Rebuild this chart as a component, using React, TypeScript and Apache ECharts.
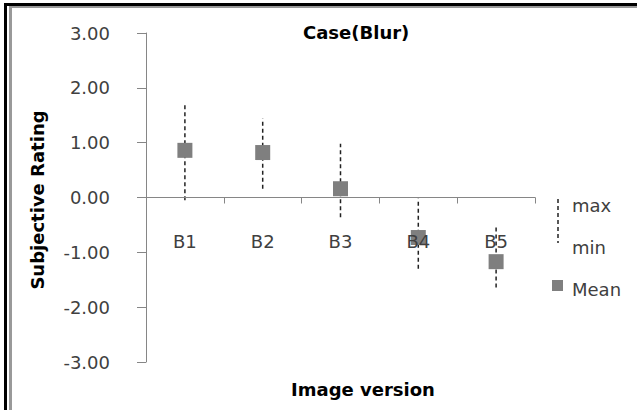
import React, { useEffect, useRef } from "react";
import * as echarts from "echarts";

const categories = ["B1", "B2", "B3", "B4", "B5"];
const meanValues = [0.86, 0.82, 0.16, -0.73, -1.17];
const maxValues = [1.72, 1.44, 0.98, -0.02, -0.51];
const minValues = [-0.05, 0.16, -0.36, -1.3, -1.64];
const yTicks = [-3, -2, -1, 0, 1, 2, 3];

const FONT = "DejaVu Sans";

export default function App() {
  const ref = useRef<HTMLDivElement>(null);
  useEffect(() => {
    if (!ref.current) return;
    const chart = echarts.init(ref.current, undefined, { renderer: "svg" });
    const rangeData = categories.map((c, i) => [i, minValues[i], maxValues[i]]);
    chart.setOption({
      animation: false,
      backgroundColor: "#ffffff",
      title: {
        text: "Case(Blur)",
        left: 298,
        top: 18,
        textStyle: { fontFamily: FONT, fontSize: 18, fontWeight: "bold", color: "#000" },
      },
      grid: { left: 146, right: 102, top: 33, bottom: 48, containLabel: false },
      xAxis: {
        type: "category",
        data: categories,
        z: 5,
        offset: -164.5,
        axisLine: { onZero: false, lineStyle: { color: "#868686", width: 1 } },
        axisTick: { show: true, length: 6, lineStyle: { color: "#868686" } },
        axisLabel: { margin: 35, fontFamily: FONT, fontSize: 18, color: "#404040" },
        splitLine: { show: false },
      },
      yAxis: {
        type: "value",
        min: yTicks[0],
        max: yTicks[yTicks.length - 1],
        interval: 1,
        axisLine: { show: true, lineStyle: { color: "#868686", width: 1 } },
        axisTick: { show: true, length: 9, lineStyle: { color: "#868686" } },
        axisLabel: {
          margin: 36,
          fontFamily: FONT,
          fontSize: 18,
          color: "#404040",
          formatter: (v: number) => v.toFixed(2),
        },
        splitLine: { show: false },
      },
      series: [
        {
          type: "custom",
          name: "range",
          z: 2,
          data: rangeData,
          renderItem: (params: any, api: any) => {
            const p1 = api.coord([api.value(0), api.value(1)]);
            const p2 = api.coord([api.value(0), api.value(2)]);
            return {
              type: "line",
              shape: { x1: p1[0], y1: p1[1], x2: p2[0], y2: p2[1] },
              style: { stroke: "#222", lineWidth: 1.5, lineDash: [4, 3] },
            };
          },
        },
        {
          type: "scatter",
          name: "Mean",
          z: 3,
          symbol: "rect",
          symbolSize: 15,
          itemStyle: { color: "#7f7f7f", opacity: 1 },
          data: meanValues,
        },
      ],
      graphic: [
        { type: "rect", shape: { x: 4, y: 3, width: 3, height: 407 }, style: { fill: "#000" } },
        { type: "rect", shape: { x: 4, y: 3, width: 633, height: 3 }, style: { fill: "#000" } },
        { type: "rect", shape: { x: 9, y: 6, width: 3, height: 404 }, style: { fill: "#999" } },
        { type: "rect", shape: { x: 9, y: 6, width: 628, height: 2 }, style: { fill: "#999" } },
        {
          type: "text",
          x: 37,
          y: 200,
          rotation: Math.PI / 2,
          style: {
            text: "Subjective Rating",
            fontFamily: FONT,
            fontSize: 18,
            fontWeight: "bold",
            fill: "#000",
            align: "center",
            verticalAlign: "middle",
          },
        },
        {
          type: "text",
          x: 363,
          y: 389,
          style: {
            text: "Image version",
            fontFamily: FONT,
            fontSize: 18,
            fontWeight: "bold",
            fill: "#000",
            align: "center",
            verticalAlign: "middle",
          },
        },
        {
          type: "line",
          shape: { x1: 558, y1: 199, x2: 558, y2: 243 },
          style: { stroke: "#222", lineWidth: 1.5, lineDash: [4, 3] },
        },
        {
          type: "text",
          x: 572,
          y: 205,
          style: { text: "max", fontFamily: FONT, fontSize: 18, fill: "#404040", align: "left", verticalAlign: "middle" },
        },
        {
          type: "text",
          x: 572,
          y: 247,
          style: { text: "min", fontFamily: FONT, fontSize: 18, fill: "#404040", align: "left", verticalAlign: "middle" },
        },
        { type: "rect", shape: { x: 552, y: 280, width: 11, height: 11 }, style: { fill: "#7f7f7f" } },
        {
          type: "text",
          x: 572,
          y: 289,
          style: { text: "Mean", fontFamily: FONT, fontSize: 18, fill: "#404040", align: "left", verticalAlign: "middle" },
        },
      ],
    });
    return () => chart.dispose();
  }, []);
  return (
    <div
      ref={ref}
      style={{ position: "fixed", left: 0, top: 0, width: 637, height: 410, background: "#fff" }}
    />
  );
}
